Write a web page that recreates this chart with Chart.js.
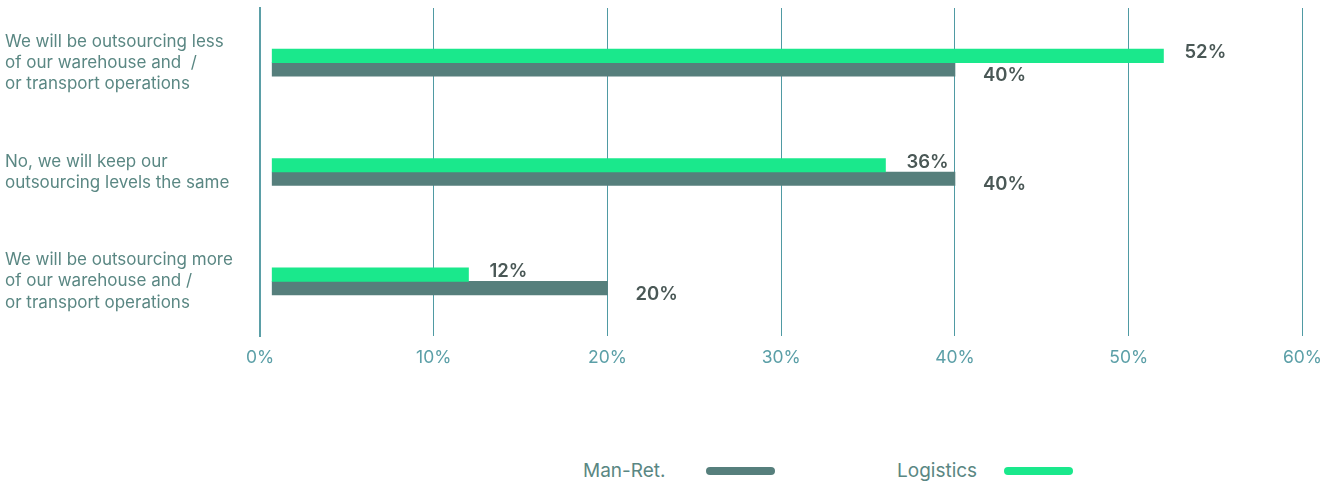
<!DOCTYPE html>
<html>
<head>
<meta charset="utf-8">
<script src="https://cdn.jsdelivr.net/npm/chart.js@4.4.1/dist/chart.umd.min.js"></script>
<style>
  html, body { margin: 0; padding: 0; background: #fff; }
  #wrap { position: absolute; left: 0; top: 0; width: 1333px; height: 380px; }
  #legend {
    position: absolute; top: 459px; left: 0; width: 1333px; height: 24px;
    font-family: Inter, "Noto Sans", sans-serif; font-size: 19px; color: #5a8783;
  }
  #legend span { position: absolute; top: 0; line-height: 24px; }
  #legend .swatch { top: 8px; width: 69px; height: 8px; border-radius: 4px; }
</style>
</head>
<body>
<div id="wrap"><canvas id="myChart"></canvas></div>
<div id="legend"></div>
<script>
document.addEventListener("DOMContentLoaded", function () {
  const categories = [
    ["We will be outsourcing less", "of our warehouse and  /", "or transport operations"],
    ["No, we will keep our", "outsourcing levels the same"],
    ["We will be outsourcing more", "of our warehouse and /", "or transport operations"],
  ];
  const logistics = [52, 36, 12];
  const manRet = [40, 40, 20];
  const xTicks = [0, 10, 20, 30, 40, 50, 60];

  const green = "#1ae88c";
  const slate = "#567f7c";
  const teal = "#5b9fa7";
  const fontFamily = "Inter, 'Noto Sans', sans-serif";

  // value labels to the right of each bar
  const valueLabels = {
    id: "valueLabels",
    afterDatasetsDraw(chart) {
      const ctx = chart.ctx;
      ctx.save();
      ctx.font = "600 18.5px " + fontFamily;
      ctx.fillStyle = "#4a5856";
      ctx.textAlign = "left";
      ctx.textBaseline = "middle";
      chart.data.datasets.forEach((ds, i) => {
        const meta = chart.getDatasetMeta(i);
        const dy = i === 0 ? -3 : 6;
        const dx = i === 0 ? 21 : 28;
        meta.data.forEach((bar, j) => {
          ctx.fillText(ds.data[j] + "%", bar.x + dx, bar.y + dy);
        });
      });
      ctx.restore();
    },
  };

  new Chart(document.getElementById("myChart"), {
    type: "bar",
    data: {
      labels: categories,
      datasets: [
        { label: "Logistics", data: logistics, backgroundColor: green, base: 0.7, barThickness: 13.5 },
        { label: "Man-Ret.", data: manRet, backgroundColor: slate, base: 0.7, barThickness: 13.5 },
      ],
    },
    options: {
      indexAxis: "y",
      responsive: true,
      maintainAspectRatio: false,
      animation: false,
      layout: { padding: { left: 5, top: 8, right: 0, bottom: 1 } },
      plugins: {
        legend: { display: false },
        tooltip: { enabled: false },
      },
      scales: {
        x: {
          min: 0,
          max: 60,
          afterBuildTicks: (scale) => {
            scale.ticks = xTicks.map((v) => ({ value: v }));
          },
          ticks: {
            color: teal,
            padding: 11,
            font: { family: fontFamily, size: 17.5 },
            callback: (v) => v + "%",
          },
          grid: { color: "#4f9aa3", lineWidth: 1, drawTicks: false },
          border: { display: false },
        },
        y: {
          afterFit: (scale) => {
            scale.width = 255;
            scale.paddingTop = 0;
            scale.paddingBottom = 0;
          },
          ticks: {
            color: "#5a8783",
            crossAlign: "far",
            padding: 0,
            font: { family: fontFamily, size: 17, lineHeight: 1.24 },
          },
          grid: { display: false, drawTicks: false },
          border: { color: teal, width: 2 },
        },
      },
    },
    plugins: [valueLabels],
  });

  // legend drawn underneath, text first then the swatch
  const legend = document.getElementById("legend");
  [
    { text: "Man-Ret.", color: slate, left: 583, swatch: 706 },
    { text: "Logistics", color: green, left: 897, swatch: 1004 },
  ].forEach((entry) => {
    legend.insertAdjacentHTML(
      "beforeend",
      `<span style="left:${entry.left}px">${entry.text}</span>` +
        `<span class="swatch" style="left:${entry.swatch}px;background:${entry.color}"></span>`
    );
  });
});
</script>
</body>
</html>
